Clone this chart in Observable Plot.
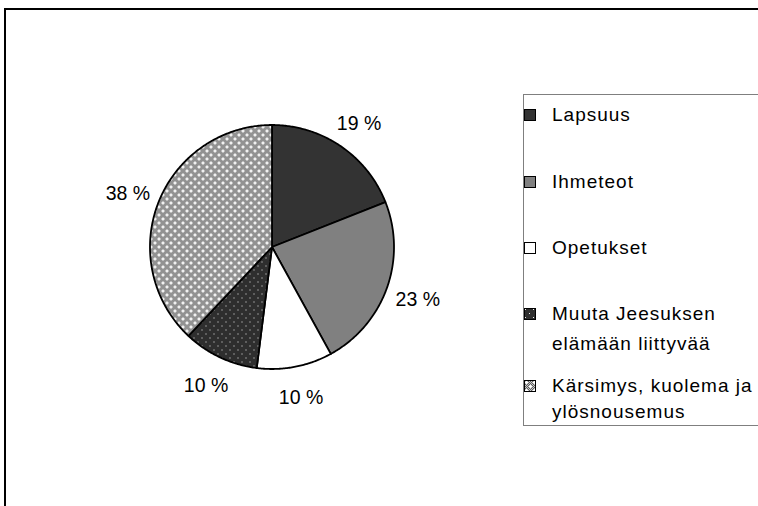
<!DOCTYPE html>
<html><head><meta charset="utf-8">
<script src="https://cdn.jsdelivr.net/npm/d3@7"></script>
<script src="https://cdn.jsdelivr.net/npm/@observablehq/plot@0.6"></script>
<style>
body{margin:0;background:#fff;font-family:"Liberation Sans",Arial,sans-serif;}
#wrap{position:relative;width:758px;height:506px;overflow:hidden;background:#fff;}
#wrap svg{position:absolute;left:0;top:0;}
#frame{position:absolute;left:4px;top:8px;width:900px;height:700px;border-top:2px solid #000;border-left:2px solid #000;}
#legend{position:absolute;left:523px;top:94px;width:300px;height:330px;border:1px solid #7f7f7f;background:#fff;}
.item{position:absolute;left:0;font-size:19px;letter-spacing:1px;color:#000;}
.item svg{position:absolute;left:7px;}
.item .lbl{position:absolute;left:28px;white-space:nowrap;}
</style></head>
<body><div id="wrap"><div id="frame"></div><div id="legend"></div></div>
<script>
// ---- data ----
const categories = ["Lapsuus", "Ihmeteot", "Opetukset", "Muuta Jeesuksen elämään liittyvää", "Kärsimys, kuolema ja ylösnousemus"];
const values = [19, 23, 10, 10, 38];
const valueLabels = ["19 %", "23 %", "10 %", "10 %", "38 %"];
const legendLines = [["Lapsuus"], ["Ihmeteot"], ["Opetukset"], ["Muuta Jeesuksen", "elämään liittyvää"], ["Kärsimys, kuolema ja", "ylösnousemus"]];

// ---- styles ----
const fills = ["#333333", "#808080", "#ffffff", "url(#pMuuta)", "url(#pKars)"];
const W = 758, H = 506, cx = 271.5, cy = 246.5, R = 122;

const arcs = d3.pie().sort(null).value(d => d.value)(categories.map((c, i) => ({cat: c, value: values[i], label: valueLabels[i]})));
const pts = [];
for (const a of arcs) {
  const n = Math.max(2, Math.ceil((a.endAngle - a.startAngle) / 0.01));
  pts.push({cat: a.data.cat, x: 0, y: 0});
  for (let k = 0; k <= n; k++) {
    const t = a.startAngle + (a.endAngle - a.startAngle) * k / n;
    pts.push({cat: a.data.cat, x: Math.sin(t), y: Math.cos(t)});
  }
  pts.push({cat: a.data.cat, x: 0, y: 0});
}
const labelPts = arcs.map(a => {
  const m = (a.startAngle + a.endAngle) / 2;
  return {x: 1.27 * Math.sin(m), y: 1.24 * Math.cos(m), text: a.data.label};
});

const svg = Plot.plot({
  width: W, height: H,
  marginLeft: 0, marginRight: 0, marginTop: 0, marginBottom: 0,
  x: {domain: [-cx / R, (W - cx) / R], axis: null},
  y: {domain: [-(H - cy) / R, cy / R], axis: null},
  color: {type: "ordinal", domain: categories, range: fills},
  style: {background: "transparent", fontFamily: "Liberation Sans, Arial, sans-serif", overflow: "visible"},
  marks: [
    Plot.line(pts, {x: "x", y: "y", z: "cat", fill: "cat", stroke: "#000", strokeWidth: 1.8, strokeLinejoin: "round", curve: "linear"}),
    Plot.text(labelPts, {x: "x", y: "y", text: "text", fontSize: 19.5, fill: "#000", textAnchor: "middle", dy: 2, style: "letter-spacing:1px"})
  ]
});

// patterns
const defs = d3.select(svg).insert("defs", ":first-child");
const pm = defs.append("pattern").attr("id", "pMuuta").attr("patternUnits", "userSpaceOnUse").attr("width", 8).attr("height", 8);
pm.append("rect").attr("width", 8).attr("height", 8).attr("fill", "#2e2e2e");
pm.append("rect").attr("x", 1).attr("y", 1).attr("width", 1).attr("height", 1).attr("fill", "#f0f0f0");
pm.append("rect").attr("x", 5).attr("y", 5).attr("width", 1).attr("height", 1).attr("fill", "#f0f0f0");
const pk = defs.append("pattern").attr("id", "pKars").attr("patternUnits", "userSpaceOnUse").attr("width", 8).attr("height", 8);
pk.append("rect").attr("width", 8).attr("height", 8).attr("fill", "#5c5c5c");
for (let i = 0; i < 8; i++) for (let j = 0; j < 8; j++) if ((i + j) % 2 === 0)
  pk.append("rect").attr("x", i).attr("y", j).attr("width", 1).attr("height", 1).attr("fill", "#c8c8c8");
for (const [px, py] of [[2, 2], [6, 6]]) {
  pk.append("rect").attr("x", px - 1).attr("y", py).attr("width", 3).attr("height", 1).attr("fill", "#fff");
  pk.append("rect").attr("x", px).attr("y", py - 1).attr("width", 1).attr("height", 3).attr("fill", "#fff");
}
document.getElementById("wrap").insertBefore(svg, document.getElementById("legend"));

// legend
const legendTops = [114, 181, 247, 313, 385];
const lineGaps = [30, 30, 30, 30, 26];
const leg = d3.select("#legend");
categories.forEach((c, i) => {
  const top = legendTops[i] - 94;
  const it = leg.append("div").attr("class", "item").style("top", (top - 12) + "px");
  const s = it.append("svg").attr("width", 12).attr("height", 12).style("top", "6px");
  s.append("rect").attr("x", 0.5).attr("y", 0.5).attr("width", 11).attr("height", 11).attr("fill", fills[i]).attr("stroke", "#000");
  legendLines[i].forEach((ln, k) => {
    it.append("div").attr("class", "lbl").style("top", (k * lineGaps[i]) + "px").style("line-height", "24px").text(ln);
  });
});
</script>
</body></html>
